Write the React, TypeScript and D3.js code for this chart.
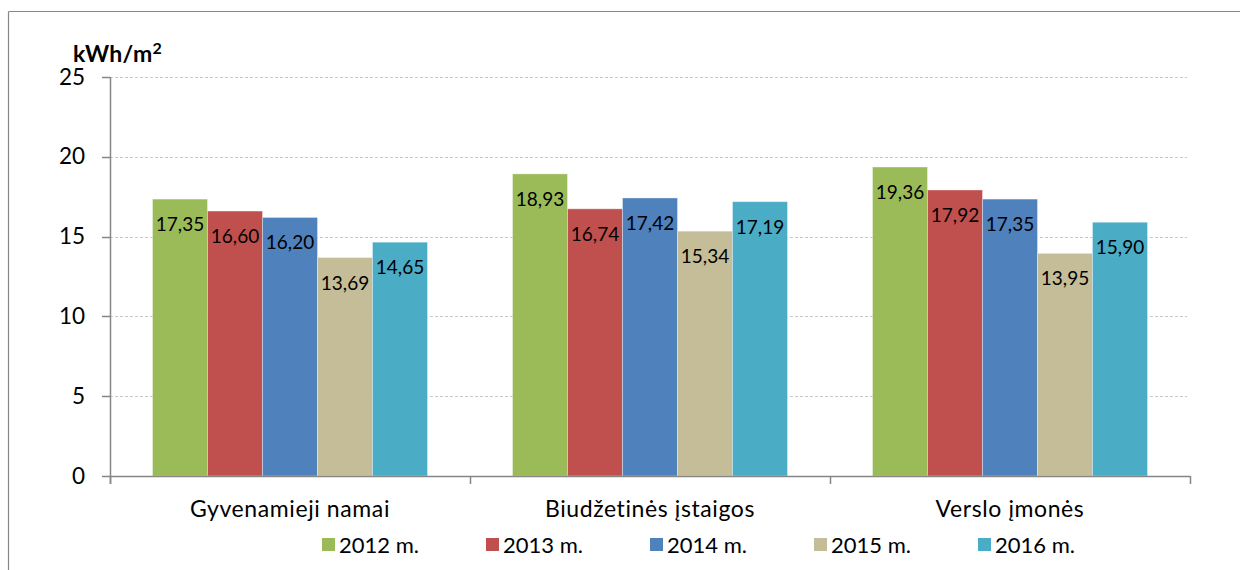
import React from "react";
import * as d3 from "d3";

const categories = ["Gyvenamieji namai", "Biudžetinės įstaigos", "Verslo įmonės"];
const seriesNames = ["2012 m.", "2013 m.", "2014 m.", "2015 m.", "2016 m."];
const values2012 = [17.35, 18.93, 19.36];
const values2013 = [16.6, 16.74, 17.92];
const values2014 = [16.2, 17.42, 17.35];
const values2015 = [13.69, 15.34, 13.95];
const values2016 = [14.65, 17.19, 15.9];
const seriesValues = [values2012, values2013, values2014, values2015, values2016];
const colors = ["#9BBB59", "#C0504D", "#4F81BD", "#C4BD97", "#4BACC6"];
const yTicks = [0, 5, 10, 15, 20, 25];
const yLabelBase = "kWh/m";
const yLabelSup = "2";

const FONT = "Lato, 'Open Sans', sans-serif";

export default function App() {
  const W = 1240;
  const H = 570;
  const left = 110;
  const right = 1190;
  const top = 77;
  const bottom = 476;

  const x0 = d3.scaleBand<string>().domain(categories).range([left, right]).paddingInner(0).paddingOuter(0);
  const x1 = d3
    .scaleBand<string>()
    .domain(seriesNames)
    .range([0, x0.bandwidth()])
    .paddingInner(0)
    .paddingOuter(85 / 2 / 55);
  const y = d3.scaleLinear().domain([0, 25]).range([bottom, top]);

  const fmt = (v: number) => v.toFixed(2).replace(".", ",");

  const legendX = [322, 486, 650, 814, 978];

  return (
    <svg
      width={W}
      height={H}
      style={{ position: "absolute", left: 0, top: 0, background: "#fff" }}
      fontFamily={FONT}
    >
      <rect x={0} y={0} width={W} height={H} fill="#fff" />
      {/* outer frame */}
      <line x1={8.5} y1={11.5} x2={W} y2={11.5} stroke="#888" strokeWidth={1.2} />
      <line x1={8.5} y1={11.5} x2={8.5} y2={H} stroke="#888" strokeWidth={1.2} />

      {/* gridlines */}
      {yTicks
        .filter((t) => t > 0)
        .map((t) => (
          <line
            key={"g" + t}
            x1={left}
            x2={1187}
            y1={Math.round(y(t)) + 0.5}
            y2={Math.round(y(t)) + 0.5}
            stroke="#c8c8c8"
            strokeDasharray="3,2"
            strokeWidth={1}
          />
        ))}

      {/* bars */}
      {categories.map((c, ci) => (
        <g key={c} transform={`translate(${x0(c)},0)`}>
          {seriesNames.map((s, si) => {
            const v = seriesValues[si][ci];
            const bx = x1(s)!;
            const bw = x1.bandwidth();
            return (
              <g key={s}>
                <rect
                  x={bx}
                  y={y(v)}
                  width={bw}
                  height={bottom - y(v)}
                  fill={colors[si]}
                  stroke="rgba(255,255,255,0.35)"
                  strokeWidth={1}
                />
                <text
                  x={bx + bw / 2}
                  y={y(v) + 32}
                  textAnchor="middle"
                  fontSize={19}
                  fill="#000"
                >
                  {fmt(v)}
                </text>
              </g>
            );
          })}
        </g>
      ))}

      {/* y axis */}
      <line x1={left + 0.5} x2={left + 0.5} y1={top} y2={bottom + 8} stroke="#868686" strokeWidth={1.5} />
      {yTicks.map((t) => (
        <g key={"t" + t}>
          <line x1={102} x2={left} y1={Math.round(y(t)) + 0.5} y2={Math.round(y(t)) + 0.5} stroke="#868686" strokeWidth={1.5} />
          <text x={85} y={y(t) + 7.5} textAnchor="end" fontSize={22.5} fill="#000">
            {t}
          </text>
        </g>
      ))}

      {/* x axis */}
      <line x1={left} x2={right} y1={bottom + 0.5} y2={bottom + 0.5} stroke="#868686" strokeWidth={1.5} />
      {[...categories.map((c) => x0(c)!), right].map((xx, i) => (
        <line key={"xt" + i} x1={xx + 0.5} x2={xx + 0.5} y1={bottom} y2={bottom + 8} stroke="#868686" strokeWidth={1.5} />
      ))}
      {categories.map((c) => (
        <text
          key={"cl" + c}
          x={x0(c)! + x0.bandwidth() / 2}
          y={517}
          textAnchor="middle"
          fontSize={23}
          letterSpacing={0.6}
          fill="#000"
        >
          {c}
        </text>
      ))}

      {/* y label */}
      <text x={73} y={62} fontSize={23} fontWeight="bold" fill="#000" letterSpacing={0.3}>
        {yLabelBase}
        <tspan fontSize={16} dy={-8}>
          {yLabelSup}
        </tspan>
      </text>

      {/* legend */}
      {seriesNames.map((s, i) => (
        <g key={"lg" + s}>
          <rect x={legendX[i]} y={538} width={13} height={13} fill={colors[i]} />
          <text x={legendX[i] + 17} y={553} fontSize={22} fill="#000">
            {s}
          </text>
        </g>
      ))}
    </svg>
  );
}
